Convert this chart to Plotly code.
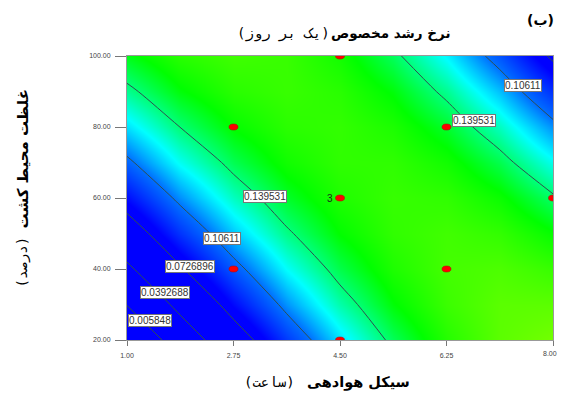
import plotly.graph_objects as go

# ---- data ----
aeration_hours = [1.0, 1.875, 2.75, 3.625, 4.5, 5.375, 6.25, 7.125, 8.0]
medium_conc = [20, 30, 40, 50, 60, 70, 80, 90, 100]
# specific growth rate (1/day), rows = medium_conc (20 -> 100), cols = aeration_hours
growth_rate = [
    [-0.0236, 0.0211, 0.0601, 0.0934, 0.1209, 0.1427, 0.1587, 0.1691, 0.1737],
    [0.0067, 0.0470, 0.0817, 0.1106, 0.1338, 0.1512, 0.1630, 0.1690, 0.1692],
    [0.0344, 0.0705, 0.1008, 0.1254, 0.1442, 0.1574, 0.1647, 0.1664, 0.1623],
    [0.0598, 0.0915, 0.1175, 0.1377, 0.1522, 0.1610, 0.1641, 0.1614, 0.1530],
    [0.0826, 0.1100, 0.1317, 0.1476, 0.1577, 0.1622, 0.1609, 0.1539, 0.1412],
    [0.1030, 0.1261, 0.1434, 0.1550, 0.1608, 0.1609, 0.1553, 0.1440, 0.1269],
    [0.1210, 0.1397, 0.1527, 0.1599, 0.1614, 0.1572, 0.1473, 0.1316, 0.1102],
    [0.1365, 0.1509, 0.1595, 0.1624, 0.1596, 0.1511, 0.1368, 0.1168, 0.0910],
    [0.1496, 0.1596, 0.1639, 0.1625, 0.1553, 0.1424, 0.1238, 0.0995, 0.0694],
]
contour_levels = [0.005848, 0.0392688, 0.0726896, 0.10611, 0.139531]
design_x = [4.5, 2.75, 6.25, 4.5, 8.0, 2.75, 6.25, 4.5]
design_y = [100, 80, 80, 60, 60, 40, 40, 20]
x_ticks = [1.0, 2.75, 4.5, 6.25, 8.0]
x_tick_labels = ["1.00", "2.75", "4.50", "6.25", "8.00"]
y_ticks = [20, 40, 60, 80, 100]
# contour label placements: (text, x, y)
contour_labels = [
    ("0.10611", 7.505, 91.8),
    ("0.139531", 6.70, 81.7),
    ("0.139531", 3.27, 60.3),
    ("0.10611", 2.565, 48.7),
    ("0.0726896", 2.04, 40.6),
    ("0.0392688", 1.63, 33.5),
    ("0.005848", 1.38, 25.6),
]

# ---- colour scale (absolute z stops) ----
zmin, zmax = 0.07, 0.20
zstops = [0.07, 0.08, 0.106, 0.125, 0.152, 0.20]
zcols = ['#0000ff', '#0000ff', '#0070ff', '#00ffff', '#00ff00', '#ffff00']
cscale = [[(z - zmin) / (zmax - zmin), c] for z, c in zip(zstops, zcols)]

fig = go.Figure()
fig.add_trace(go.Heatmap(x=aeration_hours, y=medium_conc, z=growth_rate,
                         zsmooth='best', colorscale=cscale, zmin=zmin, zmax=zmax,
                         showscale=False, hoverinfo='skip'))
step = contour_levels[1] - contour_levels[0]
fig.add_trace(go.Contour(x=aeration_hours, y=medium_conc, z=growth_rate,
                         contours=dict(coloring='none', start=contour_levels[0],
                                       end=contour_levels[-1] + 1e-6, size=step),
                         line=dict(color='#2f4f4f', width=1), showscale=False,
                         hoverinfo='skip'))

shapes = []
for xv, yv in zip(design_x, design_y):
    shapes.append(dict(type='circle', xref='x', yref='y', xsizemode='pixel', ysizemode='pixel',
                       xanchor=xv, yanchor=yv, x0=-4.5, x1=4.5, y0=-3, y1=3,
                       fillcolor='#ff0000', line=dict(color='#b00000', width=0.5)))

TICKFONT = dict(family='Liberation Sans, Arial', size=7, color='#444444')
ann = []
for txt, xv, yv in contour_labels:
    ann.append(dict(x=xv, y=yv, xref='x', yref='y', text=txt, showarrow=False,
                    font=dict(family='Liberation Sans, Arial', size=10, color='#333333'),
                    bgcolor='white', bordercolor='#777777', borderwidth=1, borderpad=0))
ann.append(dict(x=4.5, y=60, xref='x', yref='y', xshift=-10, text='3', showarrow=False,
                font=dict(family='Liberation Sans, Arial', size=10, color='#1a2a1a')))
# last x tick label drawn as annotation so it is not hidden at the page edge
ann.append(dict(x=x_ticks[-1], y=0, xref='x', yref='paper', text=x_tick_labels[-1],
                showarrow=False, xanchor='center', yanchor='top', xshift=-3, yshift=-8,
                font=TICKFONT))

FB = 'DejaVu Sans'
FN = 'DejaVu Sans Mono, DejaVu Sans'
# text placements in page pixels (page offset of 8px is removed below)
texts = [
    # (text, x, y, xanchor, yanchor, angle, family, size)
    ('<b>نرخ رشد مخصوص</b>', 452, 33, 'right', 'middle', 0, FB, 13.5),
    ('(یک بر روز)', 332, 33, 'right', 'middle', 0, FN, 14),
    ('<b>(ب)</b>', 556, 20, 'right', 'middle', 0, FB, 14),
    ('<b>سیکل هوادهی</b>', 412, 382, 'right', 'middle', 0, FB, 14.5),
    ('(ساعت)', 297, 382, 'right', 'middle', 0, FN, 14),
    ('<b>غلظت محیط کشت</b>', 22, 88, 'center', 'top', -90, FB, 15),
    ('(درصد)', 22, 290, 'center', 'bottom', -90, FN, 14),
]
W, H = 549, 384
OFF = 8
L, R, T, B = 119, 4, 48, 52
for txt, px, py, xa, ya, ang, fam, sz in texts:
    ann.append(dict(x=(px - OFF - L) / (W - L - R), y=1 - (py - OFF - T) / (H - T - B),
                    xref='paper', yref='paper', text=txt, showarrow=False,
                    xanchor=xa, yanchor=ya, textangle=ang,
                    font=dict(family=fam, size=sz, color='black')))

axis_common = dict(showgrid=False, zeroline=False, showline=True, linecolor='#999999',
                   linewidth=1, mirror=True, ticks='outside', tickcolor='#777777',
                   tickfont=TICKFONT)
fig.update_xaxes(range=[1, 8], tickvals=x_ticks, ticktext=x_tick_labels[:-1] + [''],
                 ticklen=5, ticklabelstandoff=4, **axis_common)
fig.update_yaxes(range=[20, 100], tickvals=y_ticks, tickformat='.2f',
                 ticklen=11, ticklabelstandoff=3, **axis_common)
fig.update_layout(width=W, height=H, margin=dict(l=L, r=R, t=T, b=B, pad=0),
                  plot_bgcolor='white', paper_bgcolor='white', showlegend=False,
                  shapes=shapes, annotations=ann)
fig.write_html("out.html")
